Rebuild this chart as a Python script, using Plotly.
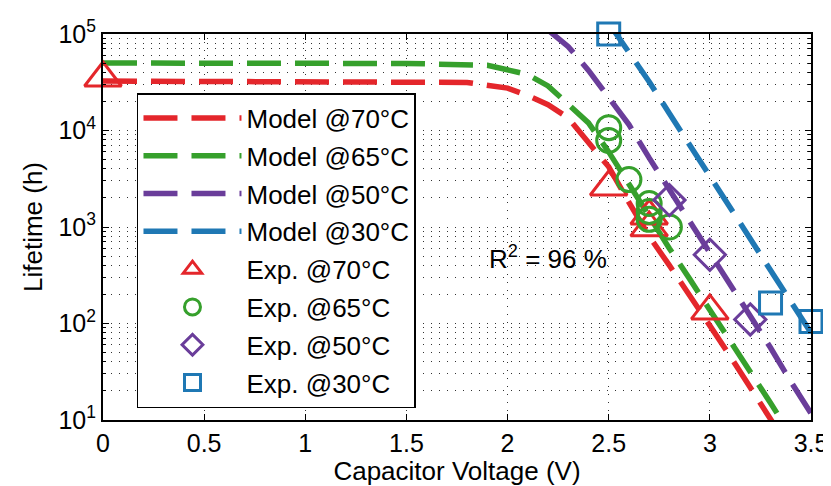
import plotly.graph_objects as go

# model curves
model_70_x = [0, 0.5, 1.0, 1.5, 1.8, 2.0, 2.1, 2.2, 2.3, 2.4, 2.5, 2.6, 2.7, 2.8, 2.9, 3.0, 3.1, 3.2, 3.3, 3.35]
model_70_y = [32500, 32500, 32500, 32000, 31500, 27500, 23000, 18500, 13500, 7500, 4200, 1800, 800, 400, 190, 95, 46, 22, 10.5, 7]

model_65_x = [0, 0.5, 1.0, 1.5, 1.9, 2.1, 2.2, 2.3, 2.4, 2.5, 2.6, 2.7, 2.8, 2.9, 3.0, 3.1, 3.2, 3.3, 3.4]
model_65_y = [50000, 50000, 50000, 49500, 47500, 38000, 29000, 19000, 12000, 6000, 2800, 1250, 600, 290, 140, 66, 32, 15, 7]

model_50_x = [2.2, 2.3, 2.4, 2.5, 2.6, 2.7, 2.8, 2.9, 3.0, 3.1, 3.2, 3.3, 3.4, 3.5]
model_50_y = [110000, 74000, 42000, 22000, 11500, 5200, 2450, 1170, 550, 263, 120, 56, 25, 11.7]

model_30_x = [2.5, 2.6, 2.7, 2.8, 2.9, 3.0, 3.1, 3.2, 3.3, 3.4, 3.5]
model_30_y = [130000, 65000, 32000, 15000, 7100, 3300, 1550, 720, 340, 160, 80]

# experimental points
exp_70_x = [0, 2.5, 2.7, 2.7, 3.0]
exp_70_y = [35000, 2600, 1300, 980, 135]

exp_65_x = [2.5, 2.5, 2.6, 2.7, 2.7, 2.7, 2.8]
exp_65_y = [10700, 7900, 3100, 1750, 1450, 1200, 1000]

exp_50_x = [2.8, 3.0, 3.2]
exp_50_y = [1900, 515, 110]

exp_30_x = [2.5, 3.3, 3.5]
exp_30_y = [100000, 163, 105]

y_tickvals = [10, 100, 1000, 10000, 100000]
y_ticktext = ["10<sup>1</sup>", "10<sup>2</sup>", "10<sup>3</sup>", "10<sup>4</sup>", "10<sup>5</sup>"]
y_minor_vals = [m * 10 ** k for k in range(1, 5) for m in range(2, 10)]

RED = "#e4262b"
GREEN = "#36a02c"
PURPLE = "#6a3d9a"
BLUE = "#1f78b4"
FONT = "Liberation Sans, Arial, sans-serif"
GRID = dict(gridcolor="#333333", gridwidth=1, griddash="1px,7px")

fig = go.Figure()

models = [
    ("Model @70°C", model_70_x, model_70_y, RED),
    ("Model @65°C", model_65_x, model_65_y, GREEN),
    ("Model @50°C", model_50_x, model_50_y, PURPLE),
    ("Model @30°C", model_30_x, model_30_y, BLUE),
]
for name, xs, ys, color in models:
    fig.add_trace(
        go.Scatter(
            x=xs, y=ys, mode="lines", name=name, legendgroup=name,
            line=dict(color=color, width=5.5, dash="34px,14px"),
        )
    )

exps = [
    ("Exp. @70°C", exp_70_x, exp_70_y, RED, "triangle-up-open", 32),
    ("Exp. @65°C", exp_65_x, exp_65_y, GREEN, "circle-open", 24),
    ("Exp. @50°C", exp_50_x, exp_50_y, PURPLE, "diamond-open", 24),
    ("Exp. @30°C", exp_30_x, exp_30_y, BLUE, "square-open", 22),
]
for name, xs, ys, color, symbol, size in exps:
    fig.add_trace(
        go.Scatter(
            x=xs, y=ys, mode="markers", name=name, legendgroup=name,
            cliponaxis=False,
            marker=dict(symbol=symbol, size=size, color=color, line=dict(color=color, width=3)),
        )
    )

fig.add_annotation(
    x=1.9, y=2.68, xref="x", yref="y", xanchor="left", yanchor="middle",
    text="R<sup>2</sup> = 96 %", showarrow=False, font=dict(size=26, color="black"),
)

fig.update_xaxes(
    range=[0, 3.5], dtick=0.5, showgrid=True, **GRID, automargin=False,
    showline=True, linecolor="black", linewidth=2, mirror="ticks",
    ticks="inside", ticklen=6, tickcolor="black", zeroline=False,
    tickfont=dict(size=25, color="black"),
    title=dict(text="Capacitor Voltage (V)", font=dict(size=26, color="black"), standoff=2),
)
fig.update_yaxes(
    type="log", range=[1, 5], tickvals=y_tickvals, ticktext=y_ticktext,
    showgrid=True, **GRID, automargin=False,
    showline=True, linecolor="black", linewidth=2, mirror="ticks",
    ticks="inside", ticklen=6, tickcolor="black", zeroline=False,
    tickfont=dict(size=25, color="black"),
    minor=dict(tickvals=y_minor_vals, ticks="inside", ticklen=3, tickcolor="black",
               showgrid=True, **GRID),
    title=dict(text="Lifetime (h)", font=dict(size=26, color="black"), standoff=8),
)

# the page body adds an 8px margin, so the figure is sized to fit inside it
fig.update_layout(
    width=823, height=478,
    margin=dict(l=95, r=20, t=26, b=66),
    paper_bgcolor="white", plot_bgcolor="white",
    font=dict(family=FONT, color="black"),
    legend=dict(
        x=0.048, y=0.847, xanchor="left", yanchor="top",
        bgcolor="white", bordercolor="black", borderwidth=1.5,
        font=dict(size=26, color="black"),
        itemwidth=98, tracegroupgap=1, traceorder="grouped",
    ),
)

fig.write_html("out.html")
